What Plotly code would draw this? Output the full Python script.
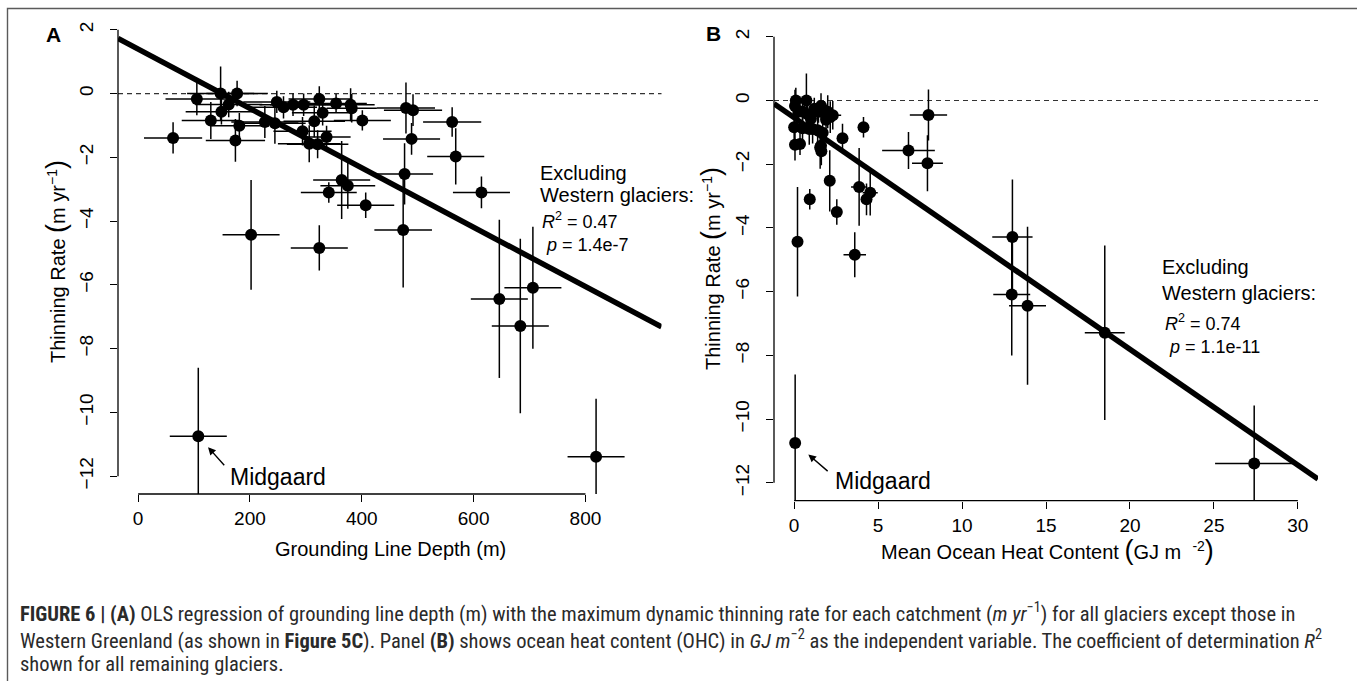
import plotly.graph_objects as go

W, H = 1357, 681

# ---------------- data (one glacier per position) ----------------
depth = [62.5, 105, 130, 147.5, 149, 162, 177, 174, 181, 202, 107.6, 226.6, 244.6, 248, 260,
         277, 296, 294, 306, 315, 324, 330, 321, 337, 354, 380, 382, 401, 364, 375,
         341, 407, 324, 476.5, 474, 479, 491.6, 489, 561.6, 568, 614, 646, 683.5, 706, 819]
depth_err = [52, 56, 52, 60, 64, 60, 55, 53, 50, 51, 51, 60, 55, 60, 60,
             60, 60, 52, 56, 55, 55, 55, 55, 43, 55, 43, 45, 51, 51, 49,
             50, 51, 51, 51, 51.5, 52, 52, 51, 52, 51, 51, 51, 51, 51, 51]
thin = [-1.39, -0.17, -0.84, 0.00, -0.57, -0.34, 0.00, -1.47, -1.01, -4.43, -10.75, -0.89, -0.93, -0.26, -0.43,
        -0.35, -0.35, -1.18, -1.57, -0.87, -0.17, -0.60, -1.59, -1.36, -0.31, -0.35, -0.46, -0.84, -2.71, -2.89,
        -3.10, -3.50, -4.84, -2.52, -4.28, -0.45, -0.52, -1.42, -0.89, -1.97, -3.10, -6.44, -7.29, -6.09, -11.39]
thin_err = [0.49, 0.51, 0.58, 0.85, 0.40, 0.40, 0.40, 0.67, 0.40, 1.72, 2.15, 0.50, 0.64, 0.35, 0.35,
            0.35, 0.35, 0.45, 0.58, 0.50, 0.40, 0.40, 0.44, 0.35, 0.30, 0.52, 0.45, 0.32, 1.22, 0.72,
            0.32, 0.40, 0.71, 0.96, 1.80, 0.80, 0.50, 0.50, 0.46, 0.88, 0.50, 2.48, 2.74, 1.91, 1.82]
ohc = [0.05, 0.05, 0.00, 0.73, 1.0, 0.5, 0.10, 1.55, 1.7, 0.2, 0.06, 0.9, 1.4, 1.2, 0.8,
       1.45, 0.25, 2.88, 6.81, 0.5, 1.6, 1.9, 1.62, 0.35, 1.8, 2.0, 2.3, 4.13, 3.87, 4.53,
       0.93, 2.54, 3.61, 2.12, 13.0, 8.0, 2.15, 1.6, 1.1, 7.94, 4.31, 13.9, 18.5, 12.96, 27.4]
ohc_err = [0.15, 0.2, 0.15, 0.3, 0.3, 0.2, 0.2, 0.3, 0.3, 0.1, 0.05, 0.3, 0.3, 0.3, 0.3,
           0.3, 0.2, 0.26, 1.57, 0.2, 0.3, 0.3, 0.3, 0.2, 0.3, 0.3, 0.5, 0.3, 0.48, 0.45,
           0.1, 0.26, 0.67, 0.1, 1.2, 1.11, 0.3, 0.3, 0.3, 0.92, 0.3, 1.1, 1.19, 1.1, 2.33]
midgaard_index = 10

xticks_a = [0, 200, 400, 600, 800]
xticks_b = [0, 5, 10, 15, 20, 25, 30]
yticks = [-12, -10, -8, -6, -4, -2, 0, 2]

xrange_a = [-36, 936]
xrange_b = [-1.2, 31.2]
yrange = [-12.56, 2.56]

fit_a = {"intercept": 1.395, "slope": -0.00931, "r2": "0.47", "p": "1.4e-7"}
fit_b = {"intercept": -0.536, "slope": -0.3636, "r2": "0.74", "p": "1.1e-11"}

FONT = "Liberation Sans, Arial, Helvetica, sans-serif"
CAPFONT = "Liberation Sans Narrow, Arial Narrow, Roboto Condensed, Liberation Sans, sans-serif"

def px_x(p):
    return p / W

def px_y(p):
    return 1 - p / H

dom_ax = [px_x(118), px_x(661.5)]
dom_ay = [px_y(494), px_y(12)]
dom_bx = [px_x(774), px_x(1318)]
dom_by = [px_y(500.7), px_y(19)]

fig = go.Figure()

def add_panel(xv, xe, xaxis, yaxis, xr, fit):
    fig.add_trace(go.Scatter(
        x=xv, y=thin, mode="markers", xaxis=xaxis, yaxis=yaxis,
        marker=dict(size=12, color="black"),
        error_x=dict(type="data", array=xe, symmetric=True, color="black", thickness=1.5, width=0),
        error_y=dict(type="data", array=thin_err, symmetric=True, color="black", thickness=1.5, width=0),
        cliponaxis=False, showlegend=False, hoverinfo="skip"))
    fig.add_trace(go.Scatter(
        x=xr, y=[fit["intercept"] + fit["slope"] * v for v in xr], mode="lines",
        xaxis=xaxis, yaxis=yaxis, line=dict(color="black", width=5.5),
        showlegend=False, hoverinfo="skip"))

add_panel(depth, depth_err, "x", "y", xrange_a, fit_a)
add_panel(ohc, ohc_err, "x2", "y2", xrange_b, fit_b)

axis_common = dict(showgrid=False, zeroline=False, showline=False, ticks="outside",
                   ticklen=7, tickwidth=1.3, tickcolor="black", automargin=False,
                   tickfont=dict(family=FONT, size=19, color="black"))

fig.update_layout(
    xaxis=dict(domain=dom_ax, range=xrange_a, tickvals=xticks_a, anchor="y", **axis_common),
    yaxis=dict(domain=dom_ay, range=yrange, tickvals=yticks, tickangle=-90, anchor="x",
               ticklabelstandoff=9, **axis_common),
    xaxis2=dict(domain=dom_bx, range=xrange_b, tickvals=xticks_b, anchor="y2", **axis_common),
    yaxis2=dict(domain=dom_by, range=yrange, tickvals=yticks, tickangle=-90, anchor="x2",
                ticklabelstandoff=9, **axis_common),
)

shapes = []
for xa, ya, xt in (("x", "y", xticks_a), ("x2", "y2", xticks_b)):
    # R-style axis lines spanning only the tick range
    shapes.append(dict(type="line", xref=xa, yref=ya + " domain", x0=xt[0], x1=xt[-1], y0=0, y1=0,
                       line=dict(color="black", width=1.3)))
    shapes.append(dict(type="line", xref=xa + " domain", yref=ya, x0=0, x1=0, y0=yticks[0], y1=yticks[-1],
                       line=dict(color="black", width=1.3)))
    # dashed zero line
    shapes.append(dict(type="line", xref=xa + " domain", yref=ya, x0=0, x1=1, y0=0, y1=0,
                       line=dict(color="#333333", width=1.1, dash="5px,4px"), layer="below"))
# outer frame around figure + caption (top and left edges visible)
shapes.append(dict(type="rect", xref="paper", yref="paper",
                   x0=px_x(7.5), x1=1.05, y0=-0.05, y1=px_y(8.5),
                   line=dict(color="#5a5a5a", width=1.4), fillcolor="rgba(0,0,0,0)", layer="above"))

annotations = []
def txt(text, x, y, xref, yref, size=20, xanchor="left", yanchor="middle", **kw):
    annotations.append(dict(text=text, x=x, y=y, xref=xref, yref=yref, showarrow=False,
                            xanchor=xanchor, yanchor=yanchor,
                            font=dict(family=FONT, size=size, color="black"), **kw))

# panel letters
txt("<b>A</b>", px_x(53), px_y(35), "paper", "paper", size=21, xanchor="center")
txt("<b>B</b>", px_x(713), px_y(33), "paper", "paper", size=21, xanchor="center")

BIGL = "<span style='font-size:27px'>(</span>"
BIGR = "<span style='font-size:27px'>)</span>"
ytitle = "Thinning Rate " + BIGL + "m yr<sup>−1</sup>" + BIGR
txt(ytitle, px_x(56), px_y(262), "paper", "paper", xanchor="center", textangle=-90)
txt(ytitle, px_x(711), px_y(269), "paper", "paper", xanchor="center", textangle=-90)
txt("Grounding Line Depth (m)", px_x(390), px_y(549), "paper", "paper", xanchor="center")
txt("Mean Ocean Heat Content " + BIGL + "GJ m  <sup>-2</sup>" + BIGR, px_x(1047), px_y(550),
    "paper", "paper", xanchor="center")

# fit statistics text
for xa, ya, pos, fit in (("x", "y", [(714.7, -2.50), (714.7, -3.18), (719, -4.33)], fit_a),
                         ("x2", "y2", [(21.78, -5.21), (21.78, -6.04), (21.98, -7.32)], fit_b)):
    txt("Excluding", pos[0][0], pos[0][1], xa, ya)
    txt("Western glaciers:", pos[1][0], pos[1][1], xa, ya)
    txt("<i>R</i><sup>2</sup> = " + fit["r2"] + "<br> <i>p</i> = " + fit["p"], pos[2][0], pos[2][1],
        xa, ya, size=18, align="left")

# Midgaard labels with arrows
for xa, ya, xv, ax, ay, so, tx, ty in (("x", "y", depth, 27.3, 30.4, 14.6, 29.5, -40.5),
                                        ("x2", "y2", ohc, 34, 29.4, 17.4, 38, -38.4)):
    annotations.append(dict(x=xv[midgaard_index], y=thin[midgaard_index], xref=xa, yref=ya,
                            ax=ax, ay=ay, axref="pixel", ayref="pixel", text="", showarrow=True,
                            arrowhead=2, arrowsize=1.1, arrowwidth=1.4, arrowcolor="black", standoff=so))
    txt("Midgaard", xv[midgaard_index], thin[midgaard_index], xa, ya, size=23,
        xshift=tx, yshift=ty)

# caption
cap_lines = [
    "<b>FIGURE 6 | (A)</b> OLS regression of grounding line depth (m) with the maximum dynamic thinning rate for each catchment (<i>m yr</i><sup>−1</sup>) for all glaciers except those in",
    "Western Greenland (as shown in <b>Figure 5C</b>). Panel <b>(B)</b> shows ocean heat content (OHC) in <i>GJ m</i><sup>−2</sup> as the independent variable. The coefficient of determination <i>R</i><sup>2</sup>",
    "shown for all remaining glaciers.",
]
for line, yp in zip(cap_lines, [612, 639, 664]):
    annotations.append(dict(text=line, x=px_x(18), y=px_y(yp), xref="paper", yref="paper",
                            showarrow=False, xanchor="left", yanchor="middle",
                            font=dict(family=CAPFONT, size=20.5, color="#2a2a2a")))

fig.update_layout(
    width=W, height=H, margin=dict(l=0, r=0, t=0, b=0),
    paper_bgcolor="white", plot_bgcolor="white",
    shapes=shapes, annotations=annotations,
    font=dict(family=FONT, color="black"),
)

fig.write_html("out.html", config={"displayModeBar": False},
               post_script="document.body.style.margin='0';document.body.style.overflow='hidden';")
